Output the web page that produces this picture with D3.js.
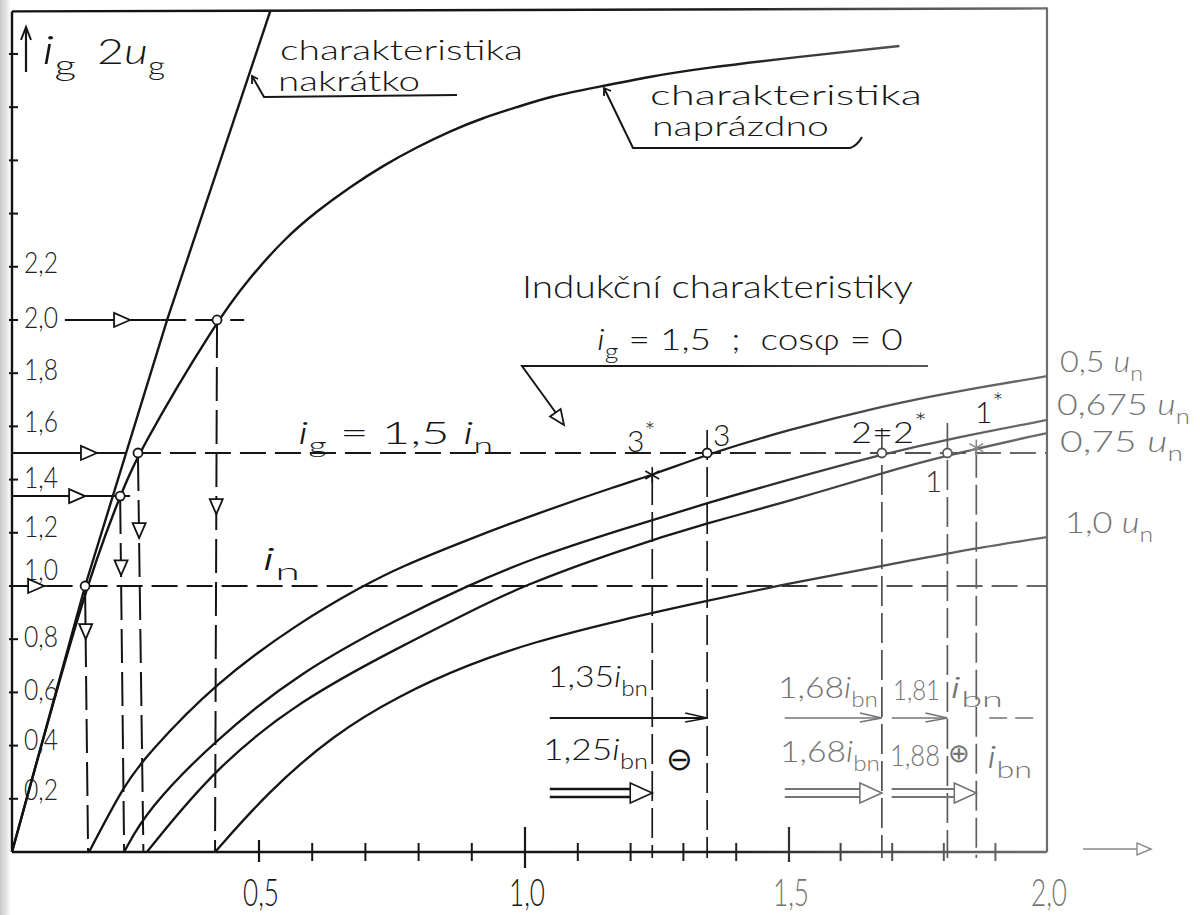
<!DOCTYPE html>
<html><head><meta charset="utf-8">
<script src="https://cdn.jsdelivr.net/npm/d3@7/dist/d3.min.js"></script>
<style>html,body{margin:0;padding:0;background:#fff}svg{display:block}</style>
</head><body>
<script>
// ---------------- data ----------------
const xTickValues = [0.5, 1.0, 1.5, 2.0];
const xTickLabels = ['0,5', '1,0', '1,5', '2,0'];
const xMinorTicks = [0.6,0.7,0.8,0.9,1.1,1.2,1.3,1.4,1.6,1.7,1.8,1.9];
const yTickValues = [0.2,0.4,0.6,0.8,1.0,1.2,1.4,1.6,1.8,2.0,2.2,2.4,2.6,2.8,3.0];
const yTickLabels = ['0,2','0,4','0,6','0,8','1,0','1,2','1,4','1,6','1,8','2,0','2,2'];

// characteristic "naprázdno" (open circuit)
const openCircuit = [[0,0],[0.148,1.0],[0.219,1.338],[0.255,1.5],[0.415,2.0],[0.482,2.16],[0.545,2.30],[0.609,2.41],[0.671,2.50],[0.733,2.58],[0.797,2.65],[0.859,2.71],[0.921,2.76],[0.985,2.80],[1.047,2.84],[1.136,2.875],[1.237,2.915],[1.331,2.945],[1.521,2.99],[1.714,3.03]];
// characteristic "nakrátko" (short circuit)
const shortCircuit = [[0,0],[0.148,1.0],[0.314,2.0],[0.521,3.16]];
// induction characteristics i_g = 1,5 ; cos phi = 0
const induction05   = [[0.156,0],[0.227,0.252],[0.273,0.365],[0.411,0.635],[0.577,0.865],[0.695,1.0],[0.765,1.071],[0.891,1.173],[1.015,1.267],[1.18,1.38],[1.241,1.417],[1.345,1.495],[1.496,1.586],[1.689,1.68],[1.817,1.729],[2.0,1.789]];
const induction0675 = [[0.227,0],[0.273,0.158],[0.411,0.421],[0.577,0.677],[0.765,0.88],[0.891,1.0],[1.015,1.105],[1.18,1.211],[1.345,1.312],[1.496,1.398],[1.68,1.495],[1.817,1.556],[2.0,1.624]];
const induction075  = [[0.273,0],[0.411,0.316],[0.577,0.571],[0.765,0.771],[0.891,0.898],[0.994,1.0],[1.18,1.135],[1.345,1.237],[1.496,1.316],[1.68,1.425],[1.807,1.492],[2.0,1.575]];
const induction10   = [[0.411,0],[0.515,0.222],[0.639,0.44],[0.765,0.59],[0.891,0.703],[1.015,0.789],[1.18,0.872],[1.345,0.944],[1.496,1.008],[1.68,1.075],[1.807,1.124],[2.0,1.184]];
const curveNames = ['0,5 ~{u}_{n}', '0,675 ~{u}_{n}', '0,75 ~{u}_{n}', '1,0 ~{u}_{n}'];

// construction: horizontal levels from the y axis
const levelY      = [2.0, 1.5, 1.338, 1.0];
const levelFrom   = [0.107, 0, 0, 0];
const levelSolid  = [0.30, 0.178, 0.239, 0.07];
const levelTo     = [0.47, 2.0, 0.239, 2.0];
const levelArrow  = [0.239, 0.172, 0.148, 0.065];
// projections from the open-circuit curve down to the x axis
const projTopX  = [0.148, 0.219, 0.255, 0.415];
const projTopY  = [1.0, 1.338, 1.5, 2.0];
const projBaseX = [0.154, 0.227, 0.266, 0.411];
const projArrowY= [0.80, 1.04, 1.18, 1.27];
// working points on the i_g = 1,5 line
const pointX = [1.345, 1.68, 1.807];
const pointY = [1.5, 1.5, 1.5];
const starX  = [1.241, 1.863];
const starY  = [1.417, 1.52];
const markerX   = [1.241, 1.345, 1.68, 1.807, 1.863];
const markerTop = [1.417, 1.586, 1.594, 1.613, 1.52];
// resulting excitation currents (arrows)
const singleFrom = [1.047, 1.492, 1.699];
const singleTo   = [1.345, 1.68, 1.807];
const doubleFrom = [1.047, 1.492, 1.699];
const doubleTo   = [1.241, 1.68, 1.863];

// ---------------- setup ----------------
const W = 1200, H = 915, INK = '#161616', GRAY = '#747474';
const FONT = 'Lato, DejaVu Sans, sans-serif';
const x = d3.scaleLinear().domain([0, 0.5, 1, 1.5, 2]).range([12, 259, 525, 789, 1047]);
const y = d3.scaleLinear().domain([0, 3.16]).range([852, 11.4]);

const svg = d3.select('body').append('svg').attr('width', W).attr('height', H)
  .attr('font-family', FONT).attr('font-weight', 300);
const defs = svg.append('defs');
const g1 = defs.append('linearGradient').attr('id', 'ink').attr('gradientUnits', 'userSpaceOnUse')
  .attr('x1', 0).attr('y1', 0).attr('x2', W).attr('y2', 0);
g1.selectAll('stop').data([[0,'#111'],[0.6,'#1a1a1a'],[0.72,'#4a4a4a'],[0.86,'#6a6a6a'],[1,'#8a8a8a']])
  .join('stop').attr('offset', d => d[0]).attr('stop-color', d => d[1]);
const g2 = defs.append('linearGradient').attr('id', 'edge').attr('x1', 0).attr('x2', 1).attr('y1', 0).attr('y2', 0);
g2.selectAll('stop').data([[0,'#c8c8c8'],[0.6,'#e6e6e6'],[1,'#ffffff']])
  .join('stop').attr('offset', d => d[0]).attr('stop-color', d => d[1]);
svg.append('rect').attr('x', 0).attr('y', 0).attr('width', 11).attr('height', H).attr('fill', 'url(#edge)');

const STROKE = 'url(#ink)';
function seg(x1, y1, x2, y2, w = 2, dash = null, stroke = STROKE) {
  const l = svg.append('line').attr('x1', x1).attr('y1', y1).attr('x2', x2).attr('y2', y2)
    .attr('stroke', stroke).attr('stroke-width', w).attr('stroke-linecap', 'butt');
  if (dash) l.attr('stroke-dasharray', dash);
  return l;
}
function openTri(tx, ty, dx, dy, len, half, w = 1.8, stroke = STROKE) {
  const n = Math.hypot(dx, dy); dx /= n; dy /= n;
  const bx = tx - dx * len, by = ty - dy * len;
  const pts = [[tx, ty], [bx - dy * half, by + dx * half], [bx + dy * half, by - dx * half]];
  svg.append('path').attr('d', 'M' + pts.map(p => p.join(',')).join('L') + 'Z')
    .attr('fill', '#fff').attr('stroke', stroke).attr('stroke-width', w).attr('stroke-linejoin', 'miter');
}
function rich(sel, str, size) {
  const t = sel.append('text').attr('font-size', size);
  const re = /_\{([^}]*)\}|\^\{([^}]*)\}|~\{([^}]*)\}|([^_^~]+)/g;
  let m, cur = 0;
  while ((m = re.exec(str)) !== null) {
    let txt, off = 0, fs = null, it = false;
    if (m[1] !== undefined) { txt = m[1]; off = size * 0.3; fs = size * 0.72; }
    else if (m[2] !== undefined) { txt = m[2]; off = -size * 0.36; fs = size * 0.85; }
    else if (m[3] !== undefined) { txt = m[3]; it = true; }
    else txt = m[4];
    const ts = t.append('tspan').text(txt);
    if (off - cur !== 0) ts.attr('dy', off - cur);
    cur = off;
    if (fs) ts.attr('font-size', fs);
    if (it) ts.attr('font-style', 'italic');
  }
  return t;
}
function label(o) {
  const g = svg.append('g');
  const t = rich(g, o.s, o.size || 30).attr('fill', o.color || INK)
    .attr('text-anchor', o.anchor || 'start').style('white-space', 'pre');
  let sx = 1;
  if (o.w) { const bw = t.node().getBBox().width; if (bw > 0) sx = o.w / bw; }
  g.attr('transform', `translate(${o.x},${o.y}) scale(${sx},1)`);
}

// ---------------- frame & axes ----------------
seg(x(0), y(3.16), x(2), y(3.16) - 3, 2.4);            // top border
seg(x(2), y(3.16) - 4, x(2), y(0), 2.2);                // right border
seg(x(0), y(0), x(0), y(3.16), 2.4);                    // y axis
seg(x(0), y(0), x(2), y(0), 2.6);                       // x axis
yTickValues.forEach(v => seg(x(0) - 3, y(v), x(0) + 6, y(v), 2));
xMinorTicks.forEach(v => seg(x(v), y(0) - 9, x(v), y(0) + 9, 2));
xTickValues.forEach(v => { if (v < 2) seg(x(v), y(0) - (v === 0.5 ? 12 : 25), x(v), y(0) + (v === 1 ? 16 : 10), 2.2); });
xTickValues.forEach((v, i) => label({ x: x(v) + 2, y: 906, s: xTickLabels[i], size: 38, w: 36, anchor: 'middle', color: v > 1.2 ? GRAY : INK }));
const yLabelDy = [1, 4, 8, 8, -6, 4, 8, 6, 7, 8, 6];
yTickLabels.forEach((s, i) => label({ x: 24, y: y(yTickValues[i]) + yLabelDy[i], s, size: 29, w: 34, color: '#222' }));

// x axis extension arrow
seg(x(2) + 36, y(0) - 3, x(2) + 90, y(0) - 3, 1.6, null, '#8a8a8a');
openTri(x(2) + 104, y(0) - 3, 1, 0, 14, 6, 1.4, '#8a8a8a');

// y axis title with arrow
seg(26, 72, 26, 30, 2.2, null, INK);
svg.append('path').attr('d', 'M21,40 L26,27 L31,40').attr('fill', 'none').attr('stroke', INK).attr('stroke-width', 2);
label({ x: 42, y: 64, s: '~{i}_{g}', size: 40, w: 34 });
label({ x: 97, y: 64, s: '2~{u}_{g}', size: 36, w: 68 });

// ---------------- construction lines ----------------
levelY.forEach((lv, i) => {
  seg(x(levelFrom[i]), y(lv), x(levelSolid[i]), y(lv), 2);
  if (levelTo[i] > levelSolid[i]) seg(x(levelSolid[i]), y(lv), x(levelTo[i]), y(lv), 2, '26,9');
  openTri(x(levelArrow[i]), y(lv), 1, 0, 16, 7);
});
projTopX.forEach((px, i) => {
  seg(x(px), y(projTopY[i]) + 4, x(projBaseX[i]), y(0), 2, '34,9');
  const t = projArrowY[i];
  const fx = px + (projBaseX[i] - px) * (projTopY[i] - t) / projTopY[i];
  openTri(x(fx), y(t), 0, 1, 15, 6.5);
});
markerX.forEach((mx, i) => seg(x(mx), y(markerTop[i]), x(mx), y(0) + 6, 1.7, '30,7'));

// ---------------- curves ----------------
const line = d3.line().x(d => x(d[0])).y(d => y(d[1])).curve(d3.curveBasis);
const lineStraight = d3.line().x(d => x(d[0])).y(d => y(d[1]));
svg.append('path').attr('d', lineStraight(shortCircuit)).attr('fill', 'none').attr('stroke', INK).attr('stroke-width', 2.4);
svg.append('path').attr('d', line(openCircuit)).attr('fill', 'none').attr('stroke', STROKE).attr('stroke-width', 2.4);
[induction05, induction0675, induction075, induction10].forEach(c =>
  svg.append('path').attr('d', line(c)).attr('fill', 'none').attr('stroke', STROKE).attr('stroke-width', 2.3));

// points
projTopX.forEach((px, i) => svg.append('circle').attr('cx', x(px)).attr('cy', y(projTopY[i])).attr('r', 4.5)
  .attr('fill', '#fff').attr('stroke', INK).attr('stroke-width', 1.8));
pointX.forEach((px, i) => svg.append('circle').attr('cx', x(px)).attr('cy', y(pointY[i])).attr('r', 4.5)
  .attr('fill', '#fff').attr('stroke', STROKE).attr('stroke-width', 1.8));
starX.forEach((sx, i) => {
  const cx = x(sx), cy = y(starY[i]);
  [0, 60, 120].forEach(a => {
    const r = a * Math.PI / 180;
    seg(cx - 8 * Math.sin(r), cy - 8 * Math.cos(r), cx + 8 * Math.sin(r), cy + 8 * Math.cos(r), 1.6, null, i ? '#888' : INK);
  });
});

// ---------------- leaders ----------------
svg.append('path').attr('d', 'M252,76 L264,97 L457,95').attr('fill', 'none').attr('stroke', INK).attr('stroke-width', 2);
svg.append('path').attr('d', 'M258,79 L252,76 L252,84').attr('fill', 'none').attr('stroke', INK).attr('stroke-width', 1.8);
svg.append('path').attr('d', 'M604,88 L633,148 L850,148 Q857,146 862,137').attr('fill', 'none').attr('stroke', INK).attr('stroke-width', 2);
svg.append('path').attr('d', 'M611,91 L604,88 L604,96').attr('fill', 'none').attr('stroke', INK).attr('stroke-width', 1.8);
svg.append('path').attr('d', 'M928,366 L522,366 L556,413').attr('fill', 'none').attr('stroke', STROKE).attr('stroke-width', 2);
openTri(564, 425, 41, 58, 15, 6.5);

// ---------------- result arrows ----------------
const ySingle = 718, yDouble = 793;
singleFrom.forEach((f, i) => {
  const c = i ? GRAY : INK;
  seg(x(f), ySingle, x(singleTo[i]) - 2, ySingle, i ? 1.6 : 2.2, null, c);
  svg.append('path').attr('d', `M${x(singleTo[i]) - 22},${ySingle - 5} L${x(singleTo[i])},${ySingle} L${x(singleTo[i]) - 22},${ySingle + 4}`)
    .attr('fill', 'none').attr('stroke', c).attr('stroke-width', 1.6);
});
seg(x(1.888), ySingle, x(1.985), ySingle, 1.5, '18,8', GRAY);
doubleFrom.forEach((f, i) => {
  const c = i ? GRAY : INK, tx = x(doubleTo[i]);
  seg(x(f), yDouble - 4, tx - 20, yDouble - 4, i ? 1.8 : 2.6, null, c);
  seg(x(f), yDouble + 4, tx - 20, yDouble + 4, i ? 1.8 : 2.6, null, c);
  openTri(tx, yDouble, 1, 0, 22, 10, 1.6, c);
});

// ---------------- texts ----------------
label({ x: 280, y: 60, s: 'charakteristika', size: 28, w: 243 });
label({ x: 278, y: 91, s: 'nakrátko', size: 28, w: 142 });
label({ x: 650, y: 105, s: 'charakteristika', size: 27, w: 272 });
label({ x: 652, y: 136, s: 'naprázdno', size: 27, w: 177 });
label({ x: 522, y: 298, s: 'Indukční charakteristiky', size: 31, w: 391 });
label({ x: 597, y: 350, s: '~{i}_{g} = 1,5  ;  cosφ = 0', size: 30, w: 306 });
label({ x: 298, y: 444, s: '~{i}_{g} = 1,5 ~{i}_{n}', size: 31, w: 195 });
label({ x: 262, y: 570, s: '~{i}_{n}', size: 32, w: 38 });
label({ x: 627, y: 452, s: '3^{*}', size: 30 });
label({ x: 713, y: 446, s: '3', size: 30 });
label({ x: 851, y: 443, s: '2=2^{*}', size: 30, w: 76 });
label({ x: 975, y: 423, s: '1^{*}', size: 30 });
label({ x: 925, y: 492, s: '1', size: 30, color: '#333' });
const rightY = [372, 415, 452, 533], rightX = [1060, 1057, 1060, 1065], rightW = [83, 133, 123, 88];
curveNames.forEach((s, i) => label({ x: rightX[i], y: rightY[i], s, size: 30, w: rightW[i], color: GRAY }));

label({ x: 548, y: 687, s: '1,35~{i}_{bn}', size: 30, w: 100 });
label({ x: 543, y: 760, s: '1,25~{i}_{bn}', size: 30, w: 105 });
label({ x: 666, y: 770, s: '⊖', size: 32 });
label({ x: 778, y: 698, s: '1,68~{i}_{bn}', size: 30, w: 100, color: GRAY });
label({ x: 893, y: 700, s: '1,81', size: 28, w: 47, color: GRAY });
label({ x: 950, y: 698, s: '~{i}_{bn}', size: 30, w: 53, color: GRAY });
label({ x: 780, y: 762, s: '1,68~{i}_{bn}', size: 30, w: 100, color: GRAY });
label({ x: 890, y: 766, s: '1,88', size: 30, w: 50, color: GRAY });
label({ x: 948, y: 762, s: '⊕', size: 26, color: GRAY });
label({ x: 987, y: 768, s: '~{i}_{bn}', size: 32, w: 45, color: GRAY });
</script>
</body></html>
